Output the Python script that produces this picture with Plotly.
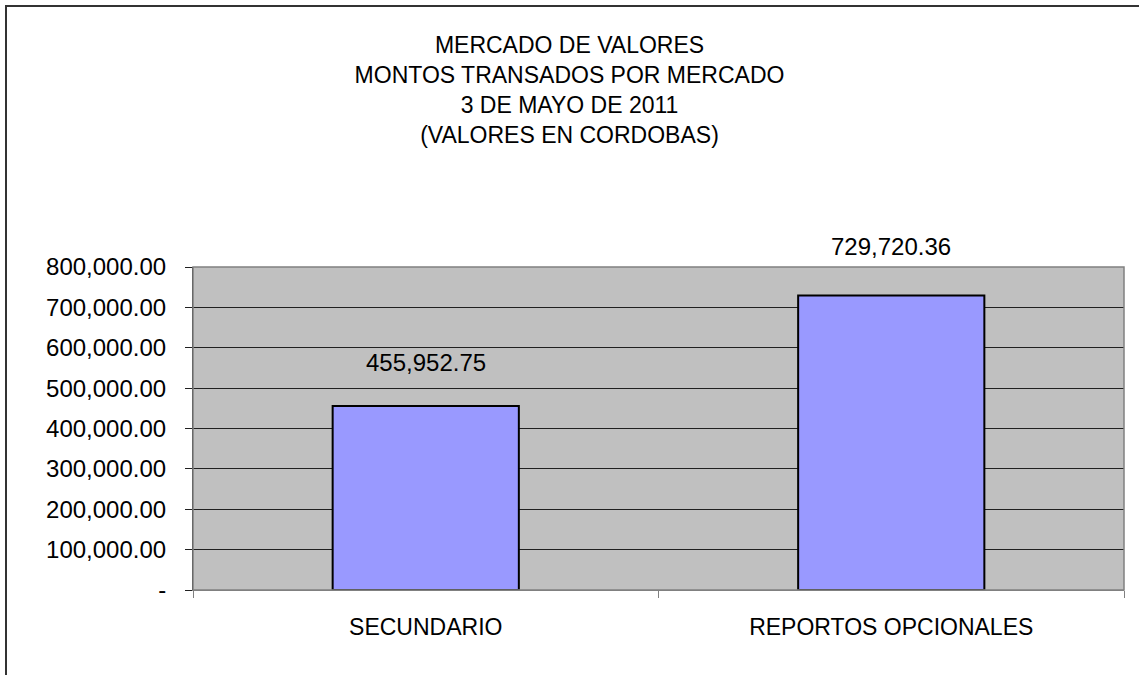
import plotly.graph_objects as go

categories = ["SECUNDARIO", "REPORTOS OPCIONALES"]
values = [455952.75, 729720.36]
value_labels = ["455,952.75", "729,720.36"]
tick_vals = [0, 100000, 200000, 300000, 400000, 500000, 600000, 700000, 800000]
tick_text = ["-", "100,000.00", "200,000.00", "300,000.00", "400,000.00",
             "500,000.00", "600,000.00", "700,000.00", "800,000.00"]
title_lines = ["MERCADO DE VALORES", "MONTOS TRANSADOS POR MERCADO",
               "3 DE MAYO DE 2011", "(VALORES EN CORDOBAS)"]

FONT = "Liberation Sans, Arial, sans-serif"

fig = go.Figure()
fig.add_trace(go.Bar(
    x=categories, y=values,
    marker=dict(color="#9999ff", line=dict(color="black", width=2)),
    width=0.4,
))

label_shifts = [28, 33]
for c, v, t, s in zip(categories, values, value_labels, label_shifts):
    fig.add_annotation(x=c, y=v, text=t, showarrow=False, yanchor="bottom",
                       yshift=s, font=dict(family=FONT, size=24, color="black"))

fig.update_layout(
    width=1139, height=675,
    margin=dict(l=193, r=15, t=267, b=85),
    paper_bgcolor="white", plot_bgcolor="#c0c0c0",
    showlegend=False,
    title=dict(text="<br>".join(title_lines), x=0.5, xref="container",
               y=1 - 53 / 675, yref="container", yanchor="top", xanchor="center",
               font=dict(family=FONT, size=23, color="black")),
    font=dict(family=FONT, color="black"),
)
fig.update_yaxes(range=[0, 800000], tickvals=tick_vals, ticktext=tick_text,
                 showgrid=True, gridcolor="#202020", gridwidth=1,
                 ticks="outside", ticklen=7, tickcolor="#202020",
                 showline=True, linecolor="#202020", linewidth=1,
                 ticklabelstandoff=14,
                 tickfont=dict(family=FONT, size=24, color="black"), zeroline=False)
fig.update_xaxes(tickson="boundaries", ticks="outside", ticklen=7, tickcolor="#808080",
                 showline=True, linecolor="#808080", linewidth=1,
                 ticklabelstandoff=16,
                 tickfont=dict(family=FONT, size=23, color="black"))

# plot area border (top/right)
fig.add_shape(type="rect", xref="paper", yref="paper", x0=0, x1=1, y0=0, y1=1,
              line=dict(color="#808080", width=1.5), fillcolor="rgba(0,0,0,0)")
# outer chart frame (extends past the visible area)
fig.add_shape(type="rect", xref="paper", yref="paper",
              x0=(6 - 193) / 931, x1=1.2, y0=-0.5, y1=(590 - 6) / 323,
              line=dict(color="#333333", width=2), fillcolor="rgba(0,0,0,0)", layer="below")

fig.write_html("out.html", config={"displayModeBar": False},
               post_script="document.body.style.margin='0';")
